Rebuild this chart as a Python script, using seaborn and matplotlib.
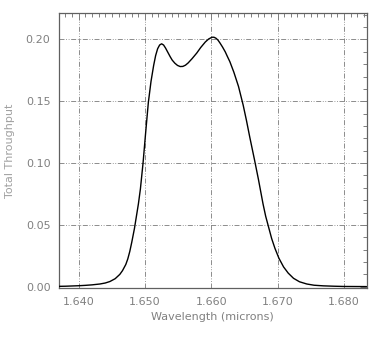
import matplotlib
matplotlib.use("Agg")
import matplotlib.pyplot as plt
from matplotlib.ticker import MultipleLocator, FormatStrFormatter
import seaborn as sns
import pandas as pd

# Filter throughput curve (wavelength in microns)
wavelength = [1.6370, 1.6380, 1.6390, 1.6400, 1.6410, 1.6420, 1.6432, 1.6440,
              1.6447, 1.6455, 1.6462, 1.6466, 1.6471, 1.6474, 1.6477, 1.6480,
              1.6484, 1.6487, 1.6490, 1.6493, 1.6497, 1.6501, 1.6505, 1.6509,
              1.6513, 1.6516, 1.6519, 1.6522, 1.6525, 1.6528, 1.6531, 1.6534,
              1.6538, 1.6541, 1.6545, 1.6549, 1.6553, 1.6557, 1.6561, 1.6565,
              1.6571, 1.6578, 1.6584, 1.6591, 1.6596, 1.6601, 1.6604, 1.6607,
              1.6610, 1.6613, 1.6617, 1.6621, 1.6624, 1.6628, 1.6634, 1.6641,
              1.6648, 1.6653, 1.6658, 1.6665, 1.6671, 1.6678, 1.6682, 1.6687,
              1.6691, 1.6696, 1.6702, 1.6709, 1.6716, 1.6724, 1.6733, 1.6744,
              1.6755, 1.6769, 1.6785, 1.6800, 1.6834]
throughput = [0.0003, 0.0004, 0.0006, 0.0008, 0.0011, 0.0015, 0.0022, 0.0030,
              0.0042, 0.0065, 0.0100, 0.0130, 0.0180, 0.0225, 0.0285, 0.0360,
              0.0470, 0.0570, 0.0670, 0.0790, 0.1000, 0.1250, 0.1490, 0.1660,
              0.1790, 0.1870, 0.1925, 0.1955, 0.1965, 0.1955, 0.1930, 0.1900,
              0.1860, 0.1833, 0.1808, 0.1790, 0.1781, 0.1782, 0.1792, 0.1810,
              0.1845, 0.1890, 0.1935, 0.1980, 0.2004, 0.2018, 0.2018, 0.2010,
              0.1995, 0.1972, 0.1938, 0.1900, 0.1865, 0.1820, 0.1735, 0.1620,
              0.1470, 0.1345, 0.1210, 0.1030, 0.0870, 0.0670, 0.0570, 0.0470,
              0.0390, 0.0310, 0.0230, 0.0160, 0.0110, 0.0068, 0.0040, 0.0022,
              0.0012, 0.0007, 0.0004, 0.0002, 0.0001]

df = pd.DataFrame({"wavelength": wavelength, "throughput": throughput})

sns.set_style("white")
plt.rcParams["font.family"] = ["DejaVu Sans"]

fig = plt.figure(figsize=(3.74, 3.40), dpi=100)
ax = fig.add_axes([0.157, 0.152, 0.8235, 0.809])

grid_style = dict(color="#7a7a7a", linewidth=0.6,
                  linestyle=(0, (6, 2, 1, 2, 1, 2)), zorder=0)
for xv in [1.640, 1.650, 1.660, 1.670, 1.680]:
    ax.axvline(xv, **grid_style)
for yv in [0.05, 0.10, 0.15, 0.20]:
    ax.axhline(yv, **grid_style)

sns.lineplot(data=df, x="wavelength", y="throughput", ax=ax,
             color="black", linewidth=1.0, sort=True, zorder=3)

ax.set_xlim(1.63698, 1.68344)
ax.set_ylim(-0.0013, 0.2212)

ax.xaxis.set_major_locator(MultipleLocator(0.010))
ax.xaxis.set_minor_locator(MultipleLocator(0.001))
ax.yaxis.set_major_locator(MultipleLocator(0.05))
ax.yaxis.set_minor_locator(MultipleLocator(0.01))
ax.xaxis.set_major_formatter(FormatStrFormatter("%.3f"))
ax.yaxis.set_major_formatter(FormatStrFormatter("%.2f"))

ax.tick_params(which="both", direction="in", top=True, right=True,
               color="#808080", labelcolor="#808080", labelsize=8)
ax.tick_params(which="major", length=5, width=0.7, pad=6)
ax.tick_params(which="minor", length=3, width=0.7)

for sp in ax.spines.values():
    sp.set_color("#606060")
    sp.set_linewidth(0.9)

ax.set_xlabel("Wavelength (microns)", color="#808080", fontsize=8, labelpad=4)
ax.set_ylabel("Total Throughput", color="#a0a0a0", fontsize=8, labelpad=8)

fig.savefig("out.png", dpi=100)
